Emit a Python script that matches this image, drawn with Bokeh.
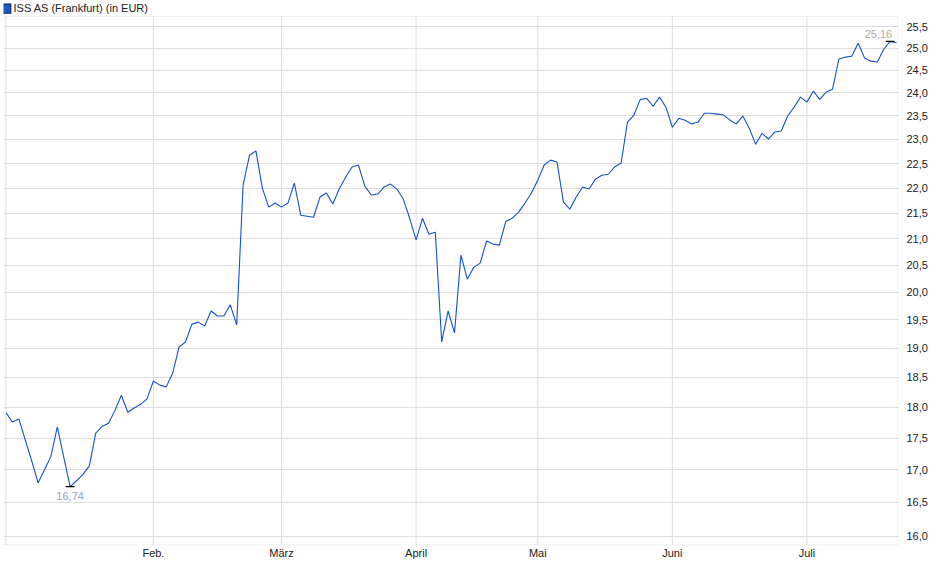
import numpy as np
from bokeh.plotting import figure
from bokeh.models import (Range1d, FixedTicker, CustomJSTickFormatter, Label,
                          BoxAnnotation)
from bokeh.embed import file_html
from bokeh.resources import INLINE

title = "ISS AS (Frankfurt) (in EUR)"

# closing prices, one per trading day (Jan .. end of July)
prices = [
    17.91, 17.76, 17.81, 17.47, 17.14, 16.80, 17.00, 17.21, 17.68, 17.20,
    16.74, 16.83, 16.93, 17.06, 17.58, 17.69, 17.74, 17.95, 18.20, 17.92,
    17.99, 18.05, 18.14, 18.44, 18.37, 18.34, 18.57, 19.02, 19.11, 19.42,
    19.46, 19.39, 19.66, 19.57, 19.57, 19.77, 19.41, 22.06, 22.67, 22.76,
    22.00, 21.62, 21.70, 21.62, 21.70, 22.10, 21.46, 21.44, 21.42, 21.82,
    21.90, 21.68, 21.98, 22.22, 22.43, 22.47, 22.04, 21.86, 21.88, 22.02,
    22.08, 21.98, 21.78, 21.40, 20.98, 21.40, 21.09, 21.13, 19.11, 19.66,
    19.27, 20.69, 20.24, 20.46, 20.54, 20.96, 20.90, 20.88, 21.34, 21.40,
    21.52, 21.70, 21.90, 22.16, 22.47, 22.57, 22.53, 21.72, 21.58, 21.82,
    22.02, 21.98, 22.18, 22.26, 22.28, 22.43, 22.51, 23.37, 23.52, 23.86,
    23.88, 23.71, 23.91, 23.69, 23.26, 23.45, 23.41, 23.33, 23.37, 23.56,
    23.56, 23.54, 23.52, 23.41, 23.33, 23.50, 23.24, 22.90, 23.13, 23.01,
    23.16, 23.18, 23.50, 23.69, 23.91, 23.80, 24.04, 23.86, 24.02, 24.08,
    24.76, 24.80, 24.82, 25.12, 24.78, 24.71, 24.69, 24.98, 25.16, 25.13,
]

# first trading day of each month (index into prices)
month_idx = [0, 23, 43, 64, 83, 104, 125]
month_labels = ["", "Feb.", "März", "April", "Mai", "Juni", "Juli"]

y_ticks = [16.0, 16.5, 17.0, 17.5, 18.0, 18.5, 19.0, 19.5, 20.0, 20.5,
           21.0, 21.5, 22.0, 22.5, 23.0, 23.5, 24.0, 24.5, 25.0, 25.5]

# chart box limits (price axis), the frame runs a bit higher to hold the title
y_lo, y_box_top, y_frame_top = 15.87, 25.74, 26.12
x_lo, x_hi = -0.4, len(prices) - 0.7

x = list(range(len(prices)))

p = figure(width=932, height=565,
           y_axis_type="log", y_axis_location="right",
           x_range=Range1d(x_lo, x_hi),
           y_range=Range1d(15.862, y_frame_top),
           output_backend="svg", toolbar_location=None,
           min_border_left=3, min_border_top=0,
           min_border_bottom=20, min_border_right=34)

p.outline_line_color = None

# axes
p.xaxis.ticker = FixedTicker(ticks=month_idx)
p.xaxis.major_label_overrides = dict(zip(month_idx, month_labels))
p.yaxis.ticker = FixedTicker(ticks=y_ticks, minor_ticks=[])
p.yaxis.formatter = CustomJSTickFormatter(code="return tick.toFixed(1).replace('.', ',');")
for ax in (p.xaxis, p.yaxis):
    ax.axis_line_color = None
    ax.major_tick_line_color = None
    ax.minor_tick_line_color = None
    ax.major_tick_out = 0
    ax.major_tick_in = 0
    ax.minor_tick_out = 0
    ax.major_label_text_font = "Liberation Sans"
    ax.major_label_text_font_size = "11px"
    ax.major_label_text_color = "#222222"
p.xaxis.major_label_standoff = 1
p.yaxis.major_label_standoff = 8

# grid: horizontal from the axis, vertical month lines only inside the box
p.xgrid.visible = False
p.ygrid.grid_line_color = "#dddddd"
p.segment(x0=month_idx, x1=month_idx,
          y0=[y_lo] * len(month_idx), y1=[y_box_top] * len(month_idx),
          line_color="#dddddd", line_width=1)

p.add_layout(BoxAnnotation(left=x_lo + 0.08, right=x_hi - 0.08,
                           bottom=y_lo, top=y_box_top,
                           fill_alpha=0, line_color="#cccccc", line_width=1))

p.line(x, prices, line_color="#1653c4", line_width=1.1)

# min / max markers
imin = int(np.argmin(prices))
imax = int(np.argmax(prices))
pmin, pmax = prices[imin], prices[imax]
p.segment(x0=[imin - 0.7, imax - 0.7], x1=[imin + 0.7, imax + 0.7],
          y0=[pmin, pmax], y1=[pmin, pmax], line_color="black", line_width=1.2)

p.add_layout(Label(x=imin, y=pmin, text=f"{pmin:.2f}".replace(".", ","),
                   text_align="center", text_baseline="top", y_offset=-5,
                   text_color="#9aa3b1", text_font="Liberation Sans",
                   text_font_size="11px", background_fill_color="white"))
p.add_layout(Label(x=imax, y=pmax, text=f"{pmax:.2f}".replace(".", ","),
                   text_align="right", text_baseline="bottom", x_offset=2, y_offset=3,
                   text_color="#b4aa9a", text_font="Liberation Sans",
                   text_font_size="11px", background_fill_color="white"))

# title with its blue square, above the chart box
p.add_layout(Label(x=x_lo, y=y_frame_top, text="\u25a0", text_align="left",
                   text_baseline="middle", x_offset=-3, y_offset=-7,
                   text_color="#1b5bc5", text_outline_color="#0b2a66",
                   text_font="DejaVu Sans", text_font_size="12px"))
p.add_layout(Label(x=x_lo, y=y_frame_top, text=title, text_align="left",
                   text_baseline="middle", x_offset=10, y_offset=-7,
                   text_color="#222222", text_font="Liberation Sans",
                   text_font_size="11px"))

open("out.html", "w").write(file_html(p, INLINE))
